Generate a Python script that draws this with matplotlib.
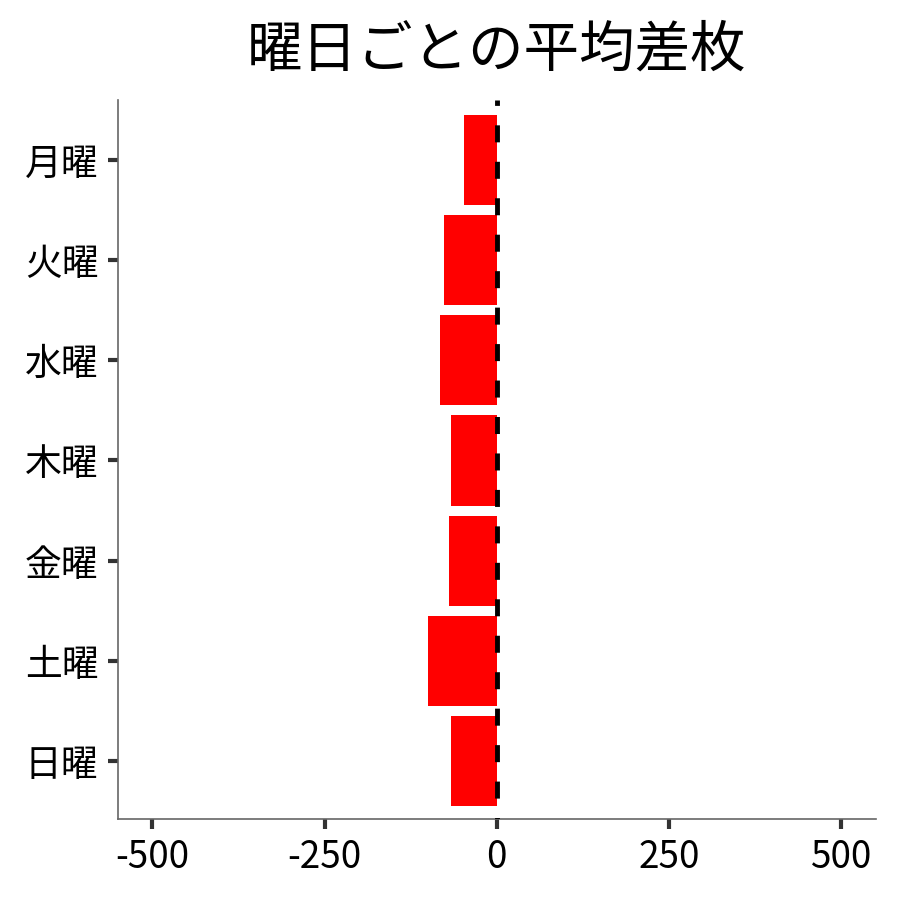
import matplotlib
matplotlib.use("Agg")
import matplotlib.pyplot as plt

# 曜日ごとの平均差枚
days = ["月曜", "火曜", "水曜", "木曜", "金曜", "土曜", "日曜"]
avg_diff = [-47, -76, -83, -67, -69, -100, -67]
x_ticks = [-500, -250, 0, 250, 500]

plt.rcParams["font.family"] = ["Noto Sans CJK JP", "DejaVu Sans"]

fig = plt.figure(figsize=(9, 9), dpi=100)
ax = fig.add_axes([0.131, 0.09, 0.842, 0.799])

y_pos = list(range(len(days)))
ax.barh(y_pos, avg_diff, height=0.9, color="#ff0000", zorder=2)
# 0 の基準線（破線）
ax.axvline(0, color="black", linestyle=(3.2, (3.5, 4)), linewidth=3.5, zorder=3)

ax.set_xlim(-550, 550)
ax.set_ylim(6.58, -0.6)
ax.set_yticks(y_pos)
ax.set_yticklabels(days)
ax.set_xticks(x_ticks)
ax.set_xticklabels([str(t) for t in x_ticks])

ax.tick_params(axis="both", direction="out", length=7, width=3, color="#333333",
               labelsize=26.5, labelcolor="black", pad=7)

for side in ["top", "right"]:
    ax.spines[side].set_visible(False)
for side in ["left", "bottom"]:
    ax.spines[side].set_color("#666666")
    ax.spines[side].set_linewidth(1.2)

ax.set_title("曜日ごとの平均差枚", fontsize=40, pad=24)

fig.savefig("out.png", dpi=100)
